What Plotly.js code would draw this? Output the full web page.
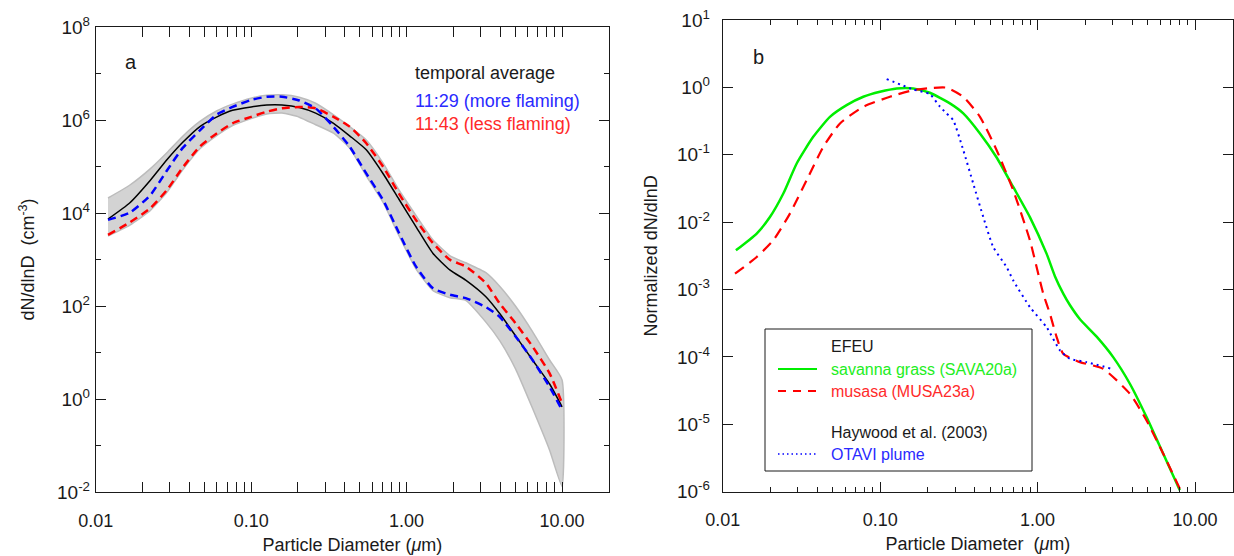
<!DOCTYPE html>
<html>
<head>
<meta charset="utf-8">
<script src="https://cdn.plot.ly/plotly-3.0.1.min.js"></script>
<style>html,body{margin:0;padding:0;background:#fff;}#chart{width:1234px;height:556px;}</style>
</head>
<body>
<div id="chart"></div>
<script>
// ---------- Panel a: dN/dlnD (cm^-3) vs particle diameter (um) ----------
const diamA = [0.012, 0.0166, 0.0224, 0.0288, 0.0363, 0.0468, 0.0603, 0.0759, 0.1, 0.126, 0.158, 0.204, 0.26, 0.339, 0.43, 0.55, 0.708, 0.891, 1.148, 1.479, 1.905, 2.399, 3.236, 3.981, 5.012, 6.457, 8.318, 10];
const meanA = [7.4e3, 1.66e4, 5.0e4, 1.41e5, 3.31e5, 7.24e5, 1.17e6, 1.62e6, 1.91e6, 2.09e6, 2.09e6, 1.86e6, 1.41e6, 8.5e5, 4.57e5, 2.29e5, 6.9e4, 2.0e4, 5.1e3, 1.35e3, 5.9e2, 3.6e2, 1.58e2, 6.8e1, 2.3e1, 6.9e0, 2.1e0, 6.8e-1];
const upperA = [2.1e4, 4.0e4, 8.9e4, 2.0e5, 4.47e5, 9.3e5, 1.58e6, 2.19e6, 2.95e6, 3.39e6, 3.47e6, 3.09e6, 2.29e6, 1.29e6, 7.2e5, 3.72e5, 1.17e5, 3.16e4, 8.9e3, 2.63e3, 1.2e3, 8.5e2, 5.2e2, 2.63e2, 1.0e2, 2.82e1, 6.9e0, 2.57e0];
const lowerA = [3.2e3, 5.5e3, 1.12e4, 2.82e4, 8.5e4, 2.4e5, 4.68e5, 7.6e5, 1.07e6, 1.35e6, 1.41e6, 1.15e6, 7.9e5, 5.2e5, 2.5e5, 6.3e4, 1.66e4, 3.3e3, 6.3e2, 2.14e2, 1.51e2, 1.32e2, 4.5e1, 1.78e1, 4.5e0, 6.3e-1, 7.9e-2, 1.32e-2];
const flamingA = [7.1e3, 1.02e4, 2.4e4, 8.3e4, 2.51e5, 6.0e5, 1.32e6, 1.91e6, 2.69e6, 3.16e6, 3.16e6, 2.63e6, 1.78e6, 7.1e5, 2.69e5, 7.1e4, 1.86e4, 3.8e3, 7.1e2, 2.4e2, 1.74e2, 1.48e2, 9.5e1, 5.8e1, 2.24e1, 6.9e0, 1.82e0, 5.8e-1];
const smolderA = [3.4e3, 6.3e3, 1.26e4, 3.16e4, 9.5e4, 2.69e5, 5.2e5, 8.5e5, 1.17e6, 1.51e6, 1.78e6, 1.91e6, 1.78e6, 1.17e6, 7.2e5, 3.16e5, 9.8e4, 2.63e4, 7.1e3, 2.24e3, 9.8e2, 7.1e2, 3.1e2, 1.12e2, 4.3e1, 1.35e1, 3.55e0, 8.1e-1];

// ---------- Panel b: normalized dN/dlnD ----------
const diamSava = [0.01213, 0.01644, 0.01995, 0.02427, 0.02951, 0.03758, 0.04797, 0.06124, 0.07816, 0.0998, 0.1274, 0.1622, 0.207, 0.2773, 0.3373, 0.4305, 0.5495, 0.6998, 0.8933, 1.14, 1.288, 1.455, 1.603, 1.858, 2.371, 3.02, 3.855, 4.92, 6.281, 8.0];
const sava = [3.82e-3, 6.78e-3, 1.19e-2, 2.66e-2, 7.43e-2, 0.1845, 0.366, 0.546, 0.726, 0.861, 0.966, 0.966, 0.832, 0.578, 0.411, 0.207, 9.12e-2, 3.33e-2, 1.19e-2, 3.41e-3, 1.58e-3, 8.7e-4, 5.9e-4, 3.63e-4, 2.0e-4, 9.93e-5, 4.0e-5, 1.28e-5, 3.65e-6, 1.05e-6];
const diamMusa = [0.01197, 0.01644, 0.02094, 0.02673, 0.03412, 0.04355, 0.05559, 0.07816, 0.1153, 0.1622, 0.207, 0.2642, 0.3373, 0.4305, 0.5495, 0.6998, 0.8933, 1.086, 1.197, 1.321, 1.455, 1.858, 2.606, 3.855, 4.92, 6.281, 8.09];
const musa = [1.72e-3, 3.04e-3, 5.38e-3, 1.34e-2, 4.2e-2, 0.131, 0.292, 0.515, 0.726, 0.912, 0.977, 0.99, 0.726, 0.366, 0.117, 2.98e-2, 5.38e-3, 8.69e-4, 4.39e-4, 1.97e-4, 1.11e-4, 8.38e-5, 6.67e-5, 2.84e-5, 1.14e-5, 3.65e-6, 1.05e-6];
const diamOtavi = [0.11, 0.1622, 0.207, 0.24, 0.2642, 0.2911, 0.3373, 0.39, 0.4519, 0.5224, 0.6353, 0.6998, 0.8933, 1.14, 1.387, 1.603, 2.046, 2.951];
const otavi = [1.327, 0.933, 0.794, 0.515, 0.411, 0.327, 0.117, 3.75e-2, 1.19e-2, 4.28e-3, 2.16e-3, 1.37e-3, 5.5e-4, 2.77e-4, 1.25e-4, 9.4e-5, 8.38e-5, 6.67e-5];

// ---------- tick labels ----------
const xTickVals = [0.01, 0.1, 1, 10];
const xTickText = ['0.01', '0.10', '1.00', '10.00'];
const yTickValsA = [1e-2, 1, 1e2, 1e4, 1e6, 1e8];
const yTickTextA = ['10<sup>-2</sup>', '10<sup>0</sup>', '10<sup>2</sup>', '10<sup>4</sup>', '10<sup>6</sup>', '10<sup>8</sup>'];
const yMinorA = [1e-1, 1e1, 1e3, 1e5, 1e7];
const yTickValsB = [1e-6, 1e-5, 1e-4, 1e-3, 1e-2, 1e-1, 1, 10];
const yTickTextB = ['10<sup>-6</sup>', '10<sup>-5</sup>', '10<sup>-4</sup>', '10<sup>-3</sup>', '10<sup>-2</sup>', '10<sup>-1</sup>', '10<sup>0</sup>', '10<sup>1</sup>'];

const xMinor = [];
for (let e = -2; e <= 1; e++) for (let k = 2; k <= 9; k++) xMinor.push(k * Math.pow(10, e));

const FONT = 'Liberation Sans, Arial, Helvetica, sans-serif';
const INK = '#1a1a1a';
const W = 1234, H = 556;
const px = v => v / W;
const py = v => 1 - v / H;
const SM = 0.55;

const bandX = diamA.concat(diamA.slice().reverse());
const bandY = upperA.concat(lowerA.slice().reverse());

const traces = [
  {x: bandX, y: bandY, xaxis: 'x', yaxis: 'y', mode: 'lines', fill: 'toself', fillcolor: '#d3d3d3',
   line: {color: '#bcbcbc', width: 1.5, shape: 'spline', smoothing: 0.5}, hoverinfo: 'skip'},
  {x: diamA, y: meanA, xaxis: 'x', yaxis: 'y', mode: 'lines', name: 'temporal average',
   line: {color: '#000000', width: 1.5, shape: 'spline', smoothing: SM}},
  {x: diamA, y: smolderA, xaxis: 'x', yaxis: 'y', mode: 'lines', name: '11:43 (less flaming)',
   line: {color: '#ff0000', width: 2.5, dash: '8px,5px', shape: 'spline', smoothing: SM}},
  {x: diamA, y: flamingA, xaxis: 'x', yaxis: 'y', mode: 'lines', name: '11:29 (more flaming)',
   line: {color: '#0000ff', width: 2.5, dash: '8px,5px', shape: 'spline', smoothing: SM}},
  {x: [], y: [], xaxis: 'x', yaxis: 'y3', mode: 'lines', hoverinfo: 'skip'},
  {x: diamSava, y: sava, xaxis: 'x2', yaxis: 'y2', mode: 'lines', name: 'savanna grass (SAVA20a)',
   line: {color: '#00ee00', width: 2.5, shape: 'spline', smoothing: SM}},
  {x: diamMusa, y: musa, xaxis: 'x2', yaxis: 'y2', mode: 'lines', name: 'musasa (MUSA23a)',
   line: {color: '#ff0000', width: 2.2, dash: '11px,7px', shape: 'spline', smoothing: SM}},
  {x: diamOtavi, y: otavi, xaxis: 'x2', yaxis: 'y2', mode: 'lines', name: 'OTAVI plume',
   line: {color: '#0000ff', width: 2, dash: '2px,4px', shape: 'spline', smoothing: 0.5}}
];

function xAxisDef(domain, range, title) {
  return {
    type: 'log', domain: domain, range: range,
    tickmode: 'array', tickvals: xTickVals, ticktext: xTickText,
    ticks: 'inside', ticklen: 10, tickwidth: 1, tickcolor: INK,
    minor: {tickmode: 'array', tickvals: xMinor, ticks: 'inside', ticklen: 5, tickwidth: 1, tickcolor: INK, showgrid: false},
    showline: true, linecolor: INK, linewidth: 1, mirror: 'allticks',
    showgrid: false, zeroline: false, ticklabelstandoff: 12,
    tickfont: {family: FONT, size: 18, color: INK},
    title: {text: title, font: {family: FONT, size: 18, color: INK}, standoff: 8},
    automargin: false
  };
}

const yDomA = [py(492), py(27)];

const layout = {
  width: W, height: H,
  margin: {l: 0, r: 0, t: 0, b: 0},
  paper_bgcolor: '#ffffff', plot_bgcolor: '#ffffff',
  showlegend: false,
  font: {family: FONT, size: 18, color: INK},
  xaxis: Object.assign(xAxisDef([95.7 / W, 609 / W], [-2, 1.302], 'Particle Diameter (<i>μ</i>m)'), {anchor: 'y'}),
  xaxis2: Object.assign(xAxisDef([722.7 / W, 1233 / W], [-2, 1.241], 'Particle Diameter  (<i>μ</i>m)'), {anchor: 'y2'}),
  yaxis: {
    type: 'log', domain: yDomA, range: [-2, 8], anchor: 'x',
    tickmode: 'array', tickvals: yTickValsA, ticktext: yTickTextA, showticklabels: false,
    ticks: 'inside', ticklen: 10, tickwidth: 1, tickcolor: INK,
    minor: {tickmode: 'array', tickvals: yMinorA, ticks: 'inside', ticklen: 5, tickwidth: 1, tickcolor: INK, showgrid: false},
    showline: true, linecolor: INK, linewidth: 1, mirror: 'allticks',
    showgrid: false, zeroline: false,
    automargin: false
  },
  // label carrier for panel a's y axis (same scale, placed so labels sit just left of the frame)
  yaxis3: {
    type: 'log', domain: yDomA, range: [-2, 8], overlaying: 'y', anchor: 'free', position: 90 / W, side: 'left',
    tickmode: 'array', tickvals: yTickValsA, ticktext: yTickTextA,
    ticks: '', showline: false, showgrid: false, zeroline: false,
    tickfont: {family: FONT, size: 19, color: INK},
    title: {text: 'dN/dlnD  (cm<sup>-3</sup>)', font: {family: FONT, size: 18, color: INK}, standoff: 16},
    automargin: false
  },
  yaxis2: {
    type: 'log', domain: [py(491.7), py(20)], range: [-6, 1], anchor: 'x2',
    tickmode: 'array', tickvals: yTickValsB, ticktext: yTickTextB,
    ticks: 'inside', ticklen: 10, tickwidth: 1, tickcolor: INK,
    showline: true, linecolor: INK, linewidth: 1, mirror: 'allticks',
    showgrid: false, zeroline: false, ticklabelstandoff: 8,
    tickfont: {family: FONT, size: 19, color: INK},
    title: {text: 'Normalized dN/dlnD', font: {family: FONT, size: 18, color: INK}, standoff: 14},
    automargin: false
  },
  annotations: [
    {xref: 'paper', yref: 'paper', x: px(131), y: py(62), text: 'a', showarrow: false, xanchor: 'center', yanchor: 'middle', font: {family: FONT, size: 20, color: INK}},
    {xref: 'paper', yref: 'paper', x: px(758), y: py(57), text: 'b', showarrow: false, xanchor: 'center', yanchor: 'middle', font: {family: FONT, size: 20, color: INK}},
    {xref: 'paper', yref: 'paper', x: px(413), y: py(73), text: 'temporal average', showarrow: false, xanchor: 'left', yanchor: 'middle', font: {family: FONT, size: 18, color: INK}},
    {xref: 'paper', yref: 'paper', x: px(413), y: py(101), text: '11:29 (more flaming)', showarrow: false, xanchor: 'left', yanchor: 'middle', font: {family: FONT, size: 18, color: '#2a2aff'}},
    {xref: 'paper', yref: 'paper', x: px(413), y: py(124), text: '11:43 (less flaming)', showarrow: false, xanchor: 'left', yanchor: 'middle', font: {family: FONT, size: 18, color: '#ff2a2a'}},
    {xref: 'paper', yref: 'paper', x: px(829), y: py(346), text: 'EFEU', showarrow: false, xanchor: 'left', yanchor: 'middle', font: {family: FONT, size: 16, color: INK}},
    {xref: 'paper', yref: 'paper', x: px(829), y: py(369), text: 'savanna grass (SAVA20a)', showarrow: false, xanchor: 'left', yanchor: 'middle', font: {family: FONT, size: 16, color: '#22ee22'}},
    {xref: 'paper', yref: 'paper', x: px(829), y: py(391), text: 'musasa (MUSA23a)', showarrow: false, xanchor: 'left', yanchor: 'middle', font: {family: FONT, size: 16, color: '#ff2a2a'}},
    {xref: 'paper', yref: 'paper', x: px(829), y: py(432), text: 'Haywood et al. (2003)', showarrow: false, xanchor: 'left', yanchor: 'middle', font: {family: FONT, size: 16, color: INK}},
    {xref: 'paper', yref: 'paper', x: px(829), y: py(454), text: 'OTAVI plume', showarrow: false, xanchor: 'left', yanchor: 'middle', font: {family: FONT, size: 16, color: '#2a2aff'}}
  ],
  shapes: [
    {type: 'rect', xref: 'paper', yref: 'paper', x0: px(765), x1: px(1032), y0: py(471), y1: py(329), line: {color: INK, width: 1}, fillcolor: 'rgba(0,0,0,0)'},
    {type: 'line', xref: 'paper', yref: 'paper', x0: px(778), x1: px(817), y0: py(369), y1: py(369), line: {color: '#00ee00', width: 2}},
    {type: 'line', xref: 'paper', yref: 'paper', x0: px(778), x1: px(817), y0: py(391), y1: py(391), line: {color: '#ff0000', width: 2, dash: '8px,7px'}},
    {type: 'line', xref: 'paper', yref: 'paper', x0: px(778), x1: px(817), y0: py(454), y1: py(454), line: {color: '#0000ff', width: 1.5, dash: '1.5px,3px'}}
  ]
};

Plotly.newPlot('chart', traces, layout, {displayModeBar: false, staticPlot: true});
</script>
</body>
</html>
